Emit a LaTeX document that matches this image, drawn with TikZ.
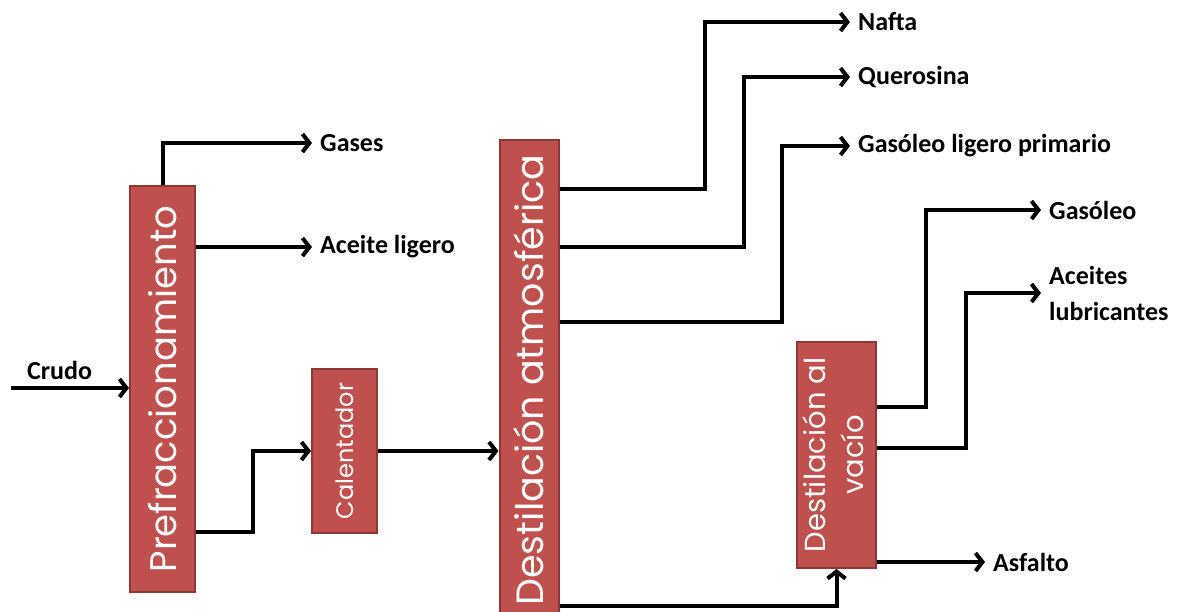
\documentclass[tikz,border=0pt]{standalone}
\usepackage{fontspec}
\setmainfont{Carlito}
\newfontfamily\boxfont{Poppins}
\usetikzlibrary{arrows.meta}
\definecolor{boxred}{HTML}{C0504D}
\definecolor{boxedge}{HTML}{8C3836}

\begin{document}
\begin{tikzpicture}[x=1pt,y=-1pt,
    unit/.style={draw=boxedge, line width=2pt, fill=boxred, inner sep=0pt, text=white},
    flow/.style={line width=4pt, -{Straight Barb[length=7pt,width=18pt]}},
    prod/.style={anchor=west, inner xsep=8pt, inner ysep=0pt, align=left,
      font=\bfseries\fontsize{26}{36}\selectfont}]
        % \draw[help lines] (0,0) grid[step=50] (1183,611);
        \clip (0,0) rectangle (1183,611);

        % units
        \node[unit, minimum width=65pt, minimum height=406pt] (pre) at (162.5,389)
          {\rotatebox{90}{\boxfont\fontsize{37}{40}\selectfont Prefraccionamiento}};
        \node[unit, minimum width=65pt, minimum height=164pt] (cal) at (344.5,451)
          {\rotatebox{90}{\boxfont\fontsize{24}{28}\selectfont Calentador}};
        \node[unit, minimum width=59pt, minimum height=480pt] (atm) at (529,380)
          {\rotatebox{90}{\boxfont\fontsize{38}{42}\selectfont Destilación atmosférica}};
        \node[unit, minimum width=79pt, minimum height=226pt] (vac) at (836.5,455)
          {\rotatebox{90}{\boxfont\fontsize{29}{38}\selectfont
            \begin{tabular}{@{}c@{}}Destilación al\\vacío\end{tabular}}};

        % products
        \node[prod] (crudo) at (19,370) {Crudo};
        \node[prod] (gases) at (312,143) {Gases};
        \node[prod] (aceite) at (312,247) {Aceite ligero};
        \node[prod] (nafta) at (850,22) {Nafta};
        \node[prod] (quero) at (850,77) {Querosina};
        \node[prod] (glp) at (850,146) {Gasóleo ligero primario};
        \node[prod] (gasoleo) at (1041,210) {Gasóleo};
        \node[prod] (lubri) at (1041,293) {Aceites\\lubricantes};
        \node[prod] (asfalto) at (985,562) {Asfalto};

        % bends
        \coordinate (feed) at (11,388);
        \coordinate (b1) at (253,532);
        \coordinate (k1) at (705,189);
        \coordinate (k2) at (744,247);
        \coordinate (k3) at (782,322);
        \coordinate (v1) at (926,407);
        \coordinate (v2) at (966,448);
        \coordinate (k4) at (836,606);

        \draw[flow] (feed) -- (feed -| pre.west);
        \draw[flow] (pre.north) |- (gases.west);
        \draw[flow] (pre.east |- aceite.west) -- (aceite.west);
        \draw[flow] (b1 -| pre.east) -- (b1) |- (cal.west);
        \draw[flow] (cal.east) -- (cal.east -| atm.west);

        \draw[flow] (k1 -| atm.east) -- (k1) |- (nafta.west);
        \draw[flow] (k2 -| atm.east) -- (k2) |- (quero.west);
        \draw[flow] (k3 -| atm.east) -- (k3) |- (glp.west);
        \draw[flow] (k4 -| atm.east) -| (vac.south);

        \draw[flow] (v1 -| vac.east) -- (v1) |- (gasoleo.west);
        \draw[flow] (v2 -| vac.east) -- (v2) |- (lubri.west);
        \draw[flow] (vac.east |- asfalto.west) -- (asfalto.west);
\end{tikzpicture}
\end{document}
